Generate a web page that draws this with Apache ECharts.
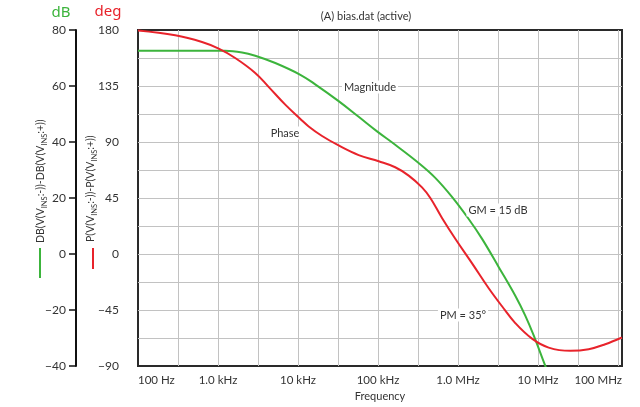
<!DOCTYPE html>
<html>
<head>
<meta charset="utf-8">
<script src="https://cdn.jsdelivr.net/npm/echarts@6/dist/echarts.min.js"></script>
<style>
html,body{margin:0;padding:0;background:#fff;}
#chart{width:640px;height:407px;}
</style>
</head>
<body>
<div id="chart"></div>
<script>
// Frequency tick labels (decades, log10 positions 2..8)
const freqTickLabels = ['100 Hz', '1.0 kHz', '10 kHz', '100 kHz', '1.0 MHz', '10 MHz', '100 MHz'];

// Magnitude series (Hz, dB)
const magFreq = [100, 1230, 2000, 2920, 5200, 10700, 16400, 32200, 57300, 97300, 164000, 322000, 520000, 841000, 1360000, 2000000, 3220000, 5200000, 6930000, 8810000, 12300000, 13500000];
const magDb   = [72.6, 72.6, 72.0, 70.8, 68.2, 64.0, 60.6, 54.6, 49.0, 43.8, 39.0, 32.5, 27.2, 20.4, 12.5, 5.4, -4.6, -14.9, -22.0, -29.0, -39.9, -42.6];

// Phase series (Hz, degrees)
const phFreq = [100, 292, 631, 1020, 1640, 2920, 4260, 6930, 10700, 13600, 20000, 32200, 57300, 102000, 164000, 242000, 355000, 451000, 631000, 925000, 1500000, 2420000, 3550000, 5200000, 8410000, 13600000, 25400000, 43000000, 69300000, 112000000];
const phDeg  = [179.6, 175.7, 170.3, 165.0, 157.5, 145.5, 134.5, 120.0, 108.5, 102.5, 94.8, 87.2, 79.5, 74.5, 69.7, 63.0, 53.5, 45.0, 29.0, 12.3, -7.5, -27.5, -42.0, -55.5, -68.0, -75.2, -77.8, -76.5, -72.5, -67.1];

const FONT = 'Lato';
const GREEN = '#3cb43c';
const RED = '#e8232b';
const GRIDC = '#c2c2c2';

const xMin = 2, xMax = 8.05;

const magData = magFreq.map((f, i) => [Math.log10(f), magDb[i]]);
const phData = phFreq.map((f, i) => [Math.log10(f), phDeg[i]]);

function minus(v) { return String(v).replace('-', '\u2212'); }

function richName(prefix) {
  return '{m|' + prefix + '(V(V}{s|INS}{m|:-))-' + prefix + '(V(V}{s|INS}{m|:+))}';
}
const nameRich = {
  m: {fontSize: 10.5, lineHeight: 16, fontFamily: FONT, fill: '#333', color: '#333'},
  s: {fontSize: 7.5, lineHeight: 8, verticalAlign: 'bottom', fontFamily: FONT, fill: '#333', color: '#333'}
};

function annot(text, x, y) {
  return {
    type: 'text', x: x, y: y, z: 100,
    style: {
      text: text, fontFamily: FONT, fontSize: 11, fill: '#333',
      align: 'center', verticalAlign: 'middle',
      backgroundColor: '#fff', padding: [1, 2, 1, 2]
    }
  };
}

const chart = echarts.init(document.getElementById('chart'));
chart.setOption({
  animation: false,
  backgroundColor: '#fff',
  textStyle: {fontFamily: FONT},
  grid: {left: 138, right: 18, top: 30, bottom: 41, show: true, borderColor: '#2a2a2a', borderWidth: 2, backgroundColor: 'transparent'},
  xAxis: {
    type: 'value', min: xMin, max: xMax, interval: 0.5,
    axisLine: {show: false}, axisTick: {show: false},
    splitLine: {show: true, showMinLine: false, showMaxLine: false, lineStyle: {color: GRIDC, width: 1}},
    axisLabel: {
      color: '#333', fontSize: 11.5, margin: 8, fontFamily: FONT,
      showMinLabel: true, showMaxLabel: true,
      alignMinLabel: 'left', alignMaxLabel: 'right',
      formatter: function (v) {
        if (Math.abs(v - xMax) < 1e-6) return freqTickLabels[6];
        const k = Math.round(v);
        if (Math.abs(v - k) < 1e-6 && k >= 2 && k <= 7) return freqTickLabels[k - 2];
        return '';
      }
    },
    name: 'Frequency', nameLocation: 'middle', nameGap: 25,
    nameTextStyle: {color: '#333', fontSize: 11, fontFamily: FONT}
  },
  yAxis: [
    {
      type: 'value', min: -40, max: 80, interval: 20, position: 'left', offset: 62,
      axisLine: {show: true, lineStyle: {color: '#111', width: 2}},
      axisTick: {show: true, length: 7, lineStyle: {color: '#111', width: 1.5}},
      axisLabel: {color: '#333', fontSize: 12, margin: 10, fontFamily: FONT, formatter: minus},
      splitLine: {show: false}
    },
    {
      type: 'value', min: -90, max: 180, interval: 22.5, position: 'left', offset: 0,
      axisLine: {show: false}, axisTick: {show: false},
      axisLabel: {
        color: '#333', fontSize: 12, margin: 19, fontFamily: FONT,
        formatter: function (v) { return (Math.abs(v % 45) < 1e-6) ? minus(v) : ''; }
      },
      splitLine: {show: true, showMinLine: false, showMaxLine: false, lineStyle: {color: GRIDC, width: 1}}
    }
  ],
  series: [
    {
      type: 'line', name: 'Magnitude', xAxisIndex: 0, yAxisIndex: 0,
      data: magData, smooth: 0.4, showSymbol: false, clip: true,
      lineStyle: {color: GREEN, width: 2}, itemStyle: {color: GREEN}
    },
    {
      type: 'line', name: 'Phase', xAxisIndex: 0, yAxisIndex: 1,
      data: phData, smooth: 0.4, showSymbol: false, clip: true,
      lineStyle: {color: RED, width: 2}, itemStyle: {color: RED}
    }
  ],
  graphic: [
    {type: 'text', x: 366, y: 16, style: {text: '(A) bias.dat (active)', fontFamily: FONT, fontSize: 11, fill: '#333', align: 'center', verticalAlign: 'middle'}},
    {type: 'text', x: 61, y: 13, style: {text: 'dB', fontFamily: 'Noto Sans', fontSize: 15, fill: GREEN, align: 'center', verticalAlign: 'middle'}},
    {type: 'text', x: 108, y: 12, style: {text: 'deg', fontFamily: 'Noto Sans', fontSize: 15, fill: RED, align: 'center', verticalAlign: 'middle'}},
    {type: 'text', x: 41, y: 243, rotation: Math.PI / 2, style: {text: richName('DB'), rich: nameRich, align: 'left', verticalAlign: 'middle', fill: '#333'}},
    {type: 'text', x: 91, y: 242, rotation: Math.PI / 2, style: {text: richName('P'), rich: nameRich, align: 'left', verticalAlign: 'middle', fill: '#333'}},
    {type: 'line', shape: {x1: 40, y1: 248, x2: 40, y2: 278}, style: {stroke: GREEN, lineWidth: 2}},
    {type: 'line', shape: {x1: 93, y1: 248, x2: 93, y2: 269}, style: {stroke: RED, lineWidth: 2}},
    annot('Magnitude', 370, 87),
    annot('Phase', 285, 133),
    annot('GM = 15 dB', 498, 210),
    annot('PM = 35°', 463, 315)
  ]
});
</script>
</body>
</html>
